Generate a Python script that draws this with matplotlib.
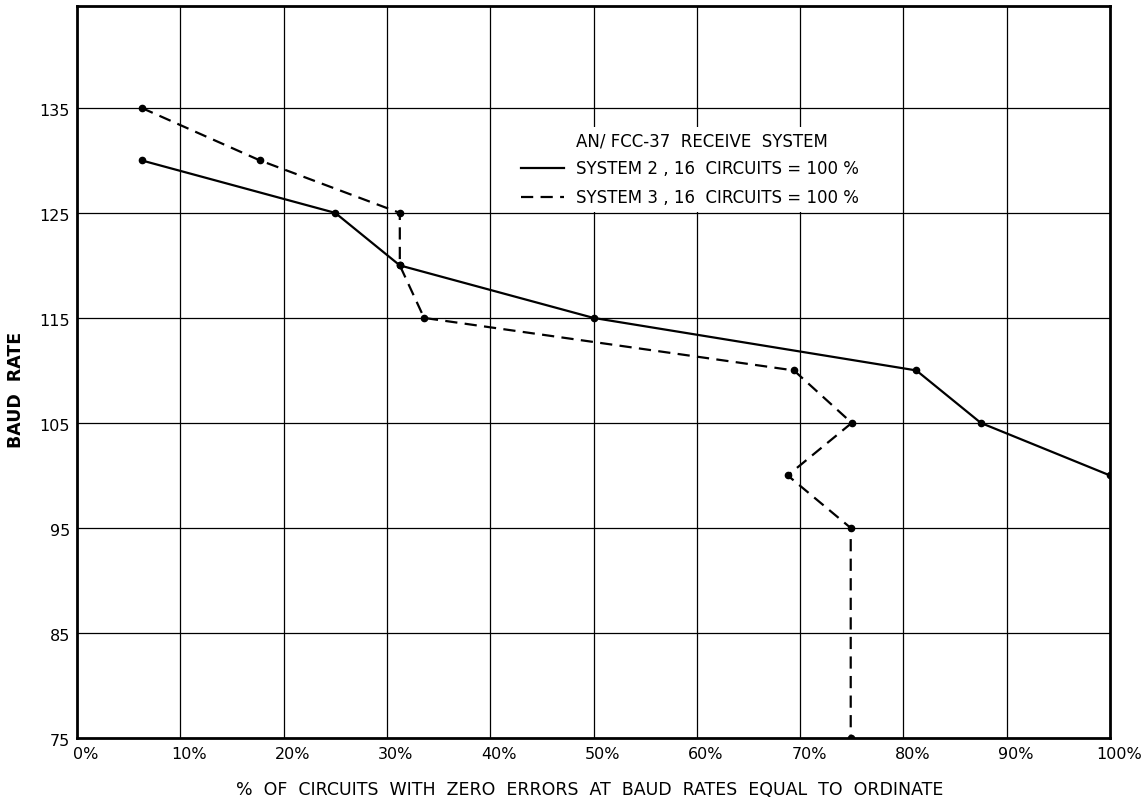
import numpy as np
import matplotlib
matplotlib.use("Agg")
import matplotlib.pyplot as plt
import matplotlib.transforms as mtransforms
from matplotlib.lines import Line2D

# readings from the chart (percent of circuits, baud rate)
sys2_pct = [6.25, 25.0, 31.25, 50.0, 81.25, 87.5, 100.0]
sys2_baud = [130, 125, 120, 115, 110, 105, 100]

sys3_pct = [6.25, 17.7, 31.25, 31.25, 33.6, 69.4, 75.0, 68.8, 74.9, 74.9]
sys3_baud = [135, 130, 125, 120, 115, 110, 105, 100, 95, 75]

x_ticks = [0, 10, 20, 30, 40, 50, 60, 70, 80, 90, 100]
x_labels = ["0%", "10%", "20%", "30%", "40%", "50%", "60%", "70%", "80%", "90%", "100%"]
y_ticks = [75, 85, 95, 105, 115, 125, 135]

legend_title = "AN/ FCC-37  RECEIVE  SYSTEM"
sys2_label = "SYSTEM 2 , 16  CIRCUITS = 100 %"
sys3_label = "SYSTEM 3 , 16  CIRCUITS = 100 %"

W, H = 1146, 805
fig = plt.figure(figsize=(W / 100, H / 100), dpi=100)
ax = fig.add_axes([77 / W, 1 - 738 / H, (1110 - 77) / W, (738 - 6) / H])

ax.plot(sys2_pct, sys2_baud, color="black", lw=1.6, marker="o", ms=4.5, zorder=3)
ax.plot(sys3_pct, sys3_baud, color="black", lw=1.6, linestyle=(0, (5.5, 3.3)),
        marker="o", ms=4.5, zorder=3)

ax.set_xlim(0, 100)
ax.set_ylim(75, 144.7)
ax.set_xticks(x_ticks)
ax.set_xticklabels(x_labels)
ax.set_yticks(y_ticks)
ax.tick_params(length=0, labelsize=11.5, pad=5)

# vertical grid at every 10%, horizontal at every tick above 75
for xv in x_ticks[1:-1]:
    ax.axvline(xv, color="black", lw=0.9, zorder=1)
for yv in y_ticks[1:]:
    ax.axhline(yv, color="black", lw=0.9, zorder=1)

for side in ["left", "right", "top", "bottom"]:
    ax.spines[side].set_linewidth(2)

# hand lettered labels sit a little right of the grid lines
shift = mtransforms.ScaledTranslation(9 / 100, -2 / 100, fig.dpi_scale_trans)
for lab in ax.get_xticklabels():
    lab.set_transform(lab.get_transform() + shift)
yshift = mtransforms.ScaledTranslation(0, -2 / 100, fig.dpi_scale_trans)
for lab in ax.get_yticklabels():
    lab.set_transform(lab.get_transform() + yshift)

fig.text(590 / W, 1 - 790 / H,
         "%  OF  CIRCUITS  WITH  ZERO  ERRORS  AT  BAUD  RATES  EQUAL  TO  ORDINATE",
         ha="center", va="center", fontsize=12.5)
fig.text(16 / W, 1 - 390 / H, "BAUD  RATE", ha="center", va="center",
         rotation=90, fontsize=12.5, fontweight="bold")

handles = [Line2D([], [], color="none"),
           Line2D([], [], color="black", lw=1.6),
           Line2D([], [], color="black", lw=1.6, linestyle=(0, (5.5, 3.3)))]
leg = ax.legend(handles, [legend_title, sys2_label, sys3_label],
                loc="upper left", bbox_to_anchor=(516 / W, 1 - 127 / H),
                bbox_transform=fig.transFigure, fontsize=12, frameon=True,
                handlelength=2.6, handletextpad=0.7, labelspacing=0.62,
                borderpad=0.3, borderaxespad=0, fancybox=False)
leg.get_frame().set_facecolor("white")
leg.get_frame().set_edgecolor("none")
leg.get_frame().set_alpha(1)
leg.set_zorder(5)

fig.savefig("out.png", dpi=100)
